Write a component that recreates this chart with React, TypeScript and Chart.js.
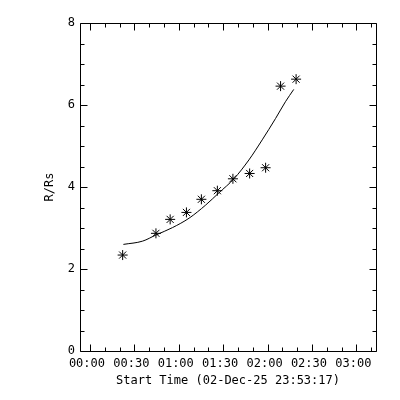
import React, { useEffect, useRef } from "react";
import { Chart, registerables } from "chart.js";

Chart.register(...registerables);

// Time in minutes relative to 00:00 (start time 23:53:17 is 6m43s before midnight)
const startMinutes = -(6 + 43 / 60);
const spanMinutes = 200;

const xTickValues = [0, 10, 20, 30, 40, 50, 60, 70, 80, 90, 100, 110, 120, 130, 140, 150, 160, 170, 180, 190];
const xMajorValues = [0, 30, 60, 90, 120, 150, 180];
const yTickValues = [0, 0.5, 1, 1.5, 2, 2.5, 3, 3.5, 4, 4.5, 5, 5.5, 6, 6.5, 7, 7.5, 8];
const yMajorValues = [0, 2, 4, 6, 8];

const obsTime = [22.1, 44.6, 54.2, 65.2, 75.3, 86.1, 96.6, 107.9, 118.7, 128.8, 139.3];
const obsR = [2.34, 2.87, 3.21, 3.38, 3.70, 3.91, 4.20, 4.33, 4.47, 6.46, 6.63];

const fitTime = [22.6, 35.6, 44.6, 55.8, 67.0, 78.2, 87.2, 97.3, 107.4, 116.4, 125.4, 132.1, 137.7];
const fitR = [2.60, 2.68, 2.83, 3.01, 3.24, 3.56, 3.86, 4.20, 4.66, 5.15, 5.67, 6.08, 6.38];

const xTitle = "Start Time (02-Dec-25 23:53:17)";
const yTitle = "R/Rs";

const FONT = "'DejaVu Sans Mono', 'Liberation Mono', monospace";

function fmtTime(v: number): string {
  const h = Math.floor(v / 60);
  const m = Math.round(v - h * 60);
  return String(h).padStart(2, "0") + ":" + String(m).padStart(2, "0");
}

const boxTicks = {
  id: "boxTicks",
  afterDraw(chart: any) {
    const { ctx, chartArea: a, scales } = chart;
    const xs = scales.x;
    const ys = scales.y;
    ctx.save();
    ctx.strokeStyle = "#000";
    ctx.lineWidth = 1;
    ctx.beginPath();
    const L = a.left + 0.5, R = a.right + 0.5, T = a.top + 0.5, B = a.bottom + 0.5;
    ctx.rect(L, T, R - L, B - T);
    xTickValues.forEach((v) => {
      const px = Math.round(xs.getPixelForValue(v)) + 0.5;
      const len = xMajorValues.includes(v) ? 7 : 4;
      ctx.moveTo(px, B);
      ctx.lineTo(px, B - len);
      ctx.moveTo(px, T);
      ctx.lineTo(px, T + len);
    });
    yTickValues.forEach((v) => {
      const py = Math.round(ys.getPixelForValue(v)) + 0.5;
      const len = yMajorValues.includes(v) ? 7 : 4;
      ctx.moveTo(L, py);
      ctx.lineTo(L + len, py);
      ctx.moveTo(R, py);
      ctx.lineTo(R - len, py);
    });
    ctx.stroke();
    ctx.restore();
  },
};

export default function App() {
  const ref = useRef<HTMLCanvasElement | null>(null);

  useEffect(() => {
    if (!ref.current) return;
    const chart = new Chart(ref.current, {
      type: "scatter",
      data: {
        datasets: [
          {
            data: obsTime.map((t, i) => ({ x: t, y: obsR[i] })),
            pointStyle: "star",
            pointRadius: 5,
            pointBorderWidth: 1,
            borderColor: "#000",
            backgroundColor: "#000",
            showLine: false,
          },
          {
            data: fitTime.map((t, i) => ({ x: t, y: fitR[i] })),
            showLine: true,
            pointRadius: 0,
            borderColor: "#000",
            borderWidth: 1,
            cubicInterpolationMode: "monotone",
          },
        ],
      },
      options: {
        animation: false,
        responsive: false,
        devicePixelRatio: 1,
        events: [],
        layout: { padding: { left: 0, top: 23, right: 24, bottom: 0 } },
        plugins: { legend: { display: false }, tooltip: { enabled: false } },
        scales: {
          x: {
            type: "linear",
            min: startMinutes,
            max: startMinutes + spanMinutes,
            grid: { display: false, drawTicks: false },
            border: { display: false },
            afterBuildTicks: (s: any) => {
              s.ticks = xTickValues.map((v) => ({ value: v }));
            },
            afterFit: (s: any) => {
              s.height = 49;
            },
            ticks: {
              autoSkip: false,
              maxRotation: 0,
              minRotation: 0,
              padding: 6,
              labelOffset: -3,
              color: "#000",
              font: { family: FONT, size: 12, lineHeight: 1.2 },
              callback: (v: any) => (xMajorValues.includes(Number(v)) ? fmtTime(Number(v)) : ""),
            },
            title: {
              display: true,
              text: xTitle,
              color: "#000",
              font: { family: FONT, size: 12, lineHeight: 1.2 },
              padding: { top: 0, bottom: 12 },
            },
          },
          y: {
            type: "linear",
            min: 0,
            max: 8,
            grid: { display: false, drawTicks: false },
            border: { display: false },
            afterBuildTicks: (s: any) => {
              s.ticks = yTickValues.map((v) => ({ value: v }));
            },
            afterFit: (s: any) => {
              s.width = 80;
            },
            ticks: {
              autoSkip: false,
              padding: 5,
              color: "#000",
              font: { family: FONT, size: 12, lineHeight: 1.2 },
              callback: (v: any) => (yMajorValues.includes(Number(v)) ? String(v) : ""),
            },
            title: {
              display: true,
              text: yTitle,
              color: "#000",
              font: { family: FONT, size: 12, lineHeight: 1.2 },
              padding: { top: 43, bottom: 0 },
            },
          },
        },
      },
      plugins: [boxTicks],
    });
    return () => chart.destroy();
  }, []);

  return (
    <div style={{ position: "fixed", left: 0, top: 0, width: 400, height: 400, background: "#fff" }}>
      <canvas ref={ref} width={400} height={400} />
    </div>
  );
}
